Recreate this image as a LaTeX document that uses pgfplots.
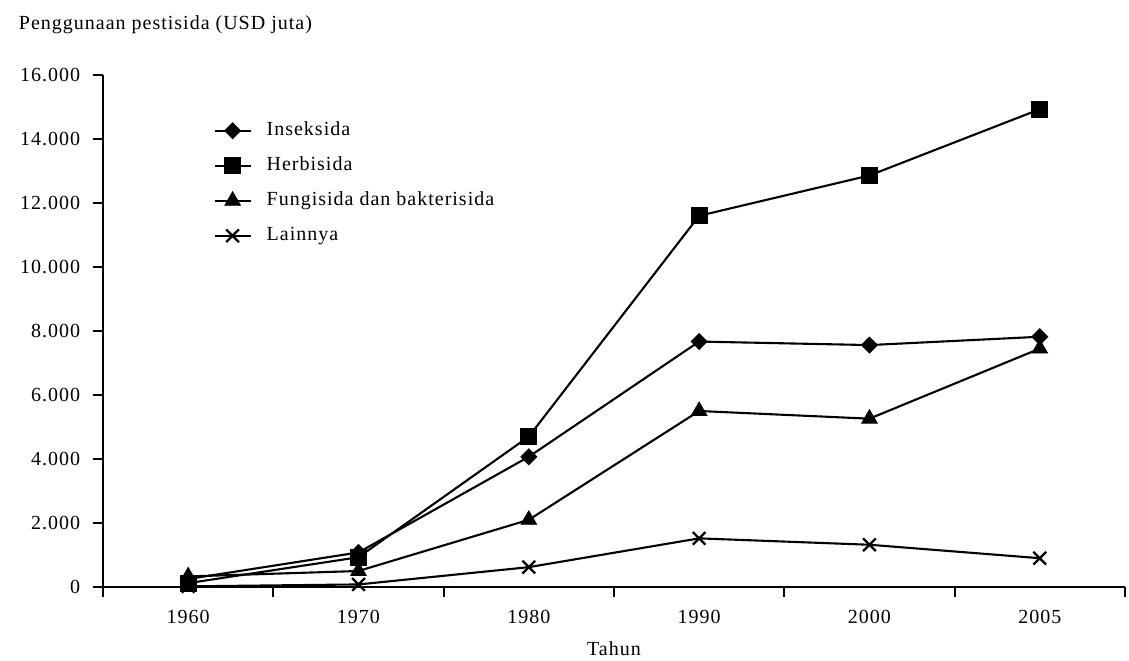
\documentclass[border=0pt]{standalone}
\usepackage{fontspec}
\setmainfont{Liberation Serif}[LetterSpace=5]
\usepackage{pgfplots}
\pgfplotsset{compat=1.18}
\begin{document}
\fontsize{20bp}{24bp}\selectfont
\begin{tikzpicture}
\useasboundingbox (0,0) rectangle (1129bp,661bp);
\begin{axis}[
  at={(103bp,74bp)}, anchor=south west,
  scale only axis, width=1022bp, height=512bp,
  axis x line*=bottom, axis y line*=left,
  axis line style={line width=2bp},
  clip=false,
  xmin=-0.5, xmax=5.5, ymin=0, ymax=16000,
  xtick={-0.5,0.5,1.5,2.5,3.5,4.5,5.5},
  xticklabels={1960,1970,1980,1990,2000,2005},
  x tick label as interval,
  ytick={0,2000,...,16000},
  scaled y ticks=false,
  tick align=outside, major tick length=10bp,
  tick style={line width=2bp, black},
  minor tick num=0,
  yticklabel style={xshift=-6bp},
  xticklabel style={yshift=-6bp},
  /pgf/number format/.cd, fixed, 1000 sep={.}, assume math mode=true, /pgfplots/.cd,
  ticklabel style={font=\fontsize{20bp}{24bp}\selectfont},
  label style={font=\fontsize{20bp}{24bp}\selectfont},
  xlabel={Tahun},
  xlabel style={at={(axis description cs:0.5,-0.133)}, anchor=base},
  ylabel={Penggunaan pestisida (USD juta)},
  ylabel style={rotate=-90, at={(axis description cs:-0.089,1.088)}, anchor=base west},
  every axis plot/.append style={line width=2.1bp, black},
  legend image code/.code={\draw[mark repeat=2,mark phase=2,#1] plot coordinates {(0bp,0bp) (18bp,0bp) (36bp,0bp)};},
  legend style={at={(axis description cs:0.108,0.912)}, anchor=north west, draw=none, fill=none,
    font=\fontsize{20bp}{24bp}\selectfont, row sep=14bp, inner sep=0pt,
    nodes={text height=13bp, text depth=4bp, inner sep=2bp},
    /tikz/every odd column/.append style={column sep=13bp}},
  legend cell align=left,
]
\addplot[mark=diamond*, mark size=8bp, mark options={xscale=1.33, solid, fill=black, line width=0.8bp}]
  coordinates {(0,250) (1,1080) (2,4070) (3,7670) (4,7560) (5,7820)};
\addlegendentry{Inseksida}
\addplot[mark=square*, mark size=8bp, mark options={solid, fill=black, line width=0.8bp}]
  coordinates {(0,120) (1,930) (2,4700) (3,11600) (4,12860) (5,14930)};
\addlegendentry{Herbisida}
\addplot[mark=triangle*, mark size=9bp, mark options={solid, fill=black, line width=0.8bp}]
  coordinates {(0,330) (1,500) (2,2100) (3,5500) (4,5260) (5,7450)};
\addlegendentry{Fungisida dan bakterisida}
\addplot[mark=x, mark size=9bp, mark options={solid, line width=2.3bp}]
  coordinates {(0,20) (1,80) (2,620) (3,1520) (4,1320) (5,900)};
\addlegendentry{Lainnya}
\end{axis}
\end{tikzpicture}
\end{document}
